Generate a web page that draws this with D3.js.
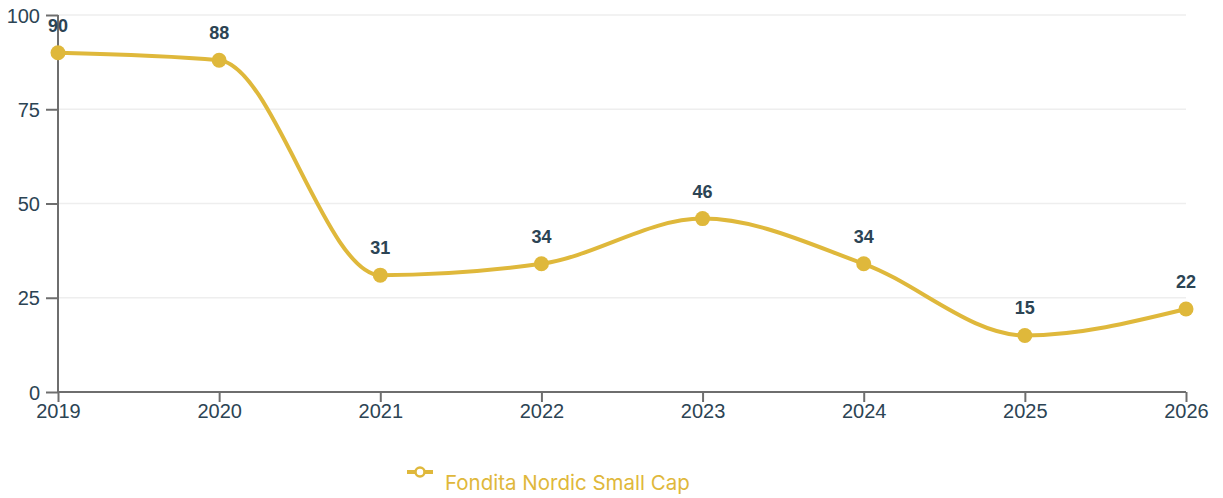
<!DOCTYPE html>
<html>
<head>
<meta charset="utf-8">
<script src="https://cdn.jsdelivr.net/npm/d3@7"></script>
<style>
  body { margin: 0; background: #fff; }
  svg { display: block; }
</style>
</head>
<body>
<svg class="chart"></svg>
<script>
let years = [2019, 2020, 2021, 2022, 2023, 2024, 2025, 2026]
let values = [90, 88, 31, 34, 46, 34, 15, 22]
let yTicks = [0, 25, 50, 75, 100]
let seriesName = "Fondita Nordic Small Cap"

let width = 1223
let height = 498
let margin = { top: 15, right: 37, bottom: 106, left: 58 }
let gold = "#dfb83b"
let ink = "#2c4454"
let font = "'Liberation Sans', Arial, sans-serif"

let svg = d3.select(".chart")
    .attr("width", width)
    .attr("height", height)

let x = d3.scalePoint()
    .domain(years)
    .range([margin.left, width - margin.right])

let y = d3.scaleLinear()
    .domain([0, 100])
    .range([height - margin.bottom, margin.top])

// grid
svg.append("g")
    .selectAll("line")
    .data(yTicks.filter(d => d > 0))
    .enter().append("line")
    .attr("x1", margin.left)
    .attr("x2", width - margin.right)
    .attr("y1", d => y(d))
    .attr("y2", d => y(d))
    .attr("stroke", "#eeeeee")
    .attr("stroke-width", 1.5)

// axes
let xAxis = svg.append("g")
    .attr("transform", `translate(0,${y(0)})`)
    .call(d3.axisBottom(x).tickSize(10))
let yAxis = svg.append("g")
    .attr("transform", `translate(${margin.left},0)`)
    .call(d3.axisLeft(y).tickValues(yTicks).tickSize(12))

;[xAxis, yAxis].forEach(g => {
    g.attr("font-size", null).attr("font-family", null)
    g.select(".domain").attr("stroke", "#6e6e6e").attr("stroke-width", 2)
    g.selectAll(".tick line").attr("stroke", "#6e6e6e").attr("stroke-width", 2)
    g.selectAll("text")
        .attr("fill", ink)
        .style("font-family", font)
        .style("font-size", "20px")
})
xAxis.selectAll("text").attr("y", 26).attr("dy", null)
yAxis.selectAll("text").attr("x", -18).attr("dy", "0.36em")
xAxis.select(".domain").attr("d", `M${margin.left},0H${width - margin.right}`)
yAxis.select(".domain").attr("d", `M0,${y(0)}V${y(100)}`)

// line
let pts = years.map((yr, i) => ({ year: yr, value: values[i] }))
let line = d3.line()
    .x(d => x(d.year))
    .y(d => y(d.value))
    .curve(d3.curveMonotoneX)

svg.append("path")
    .datum(pts)
    .attr("d", line)
    .attr("fill", "none")
    .attr("stroke", gold)
    .attr("stroke-width", 4)

svg.append("g")
    .selectAll("circle")
    .data(pts)
    .enter().append("circle")
    .attr("cx", d => x(d.year))
    .attr("cy", d => y(d.value))
    .attr("r", 7.5)
    .attr("fill", gold)

svg.append("g")
    .selectAll("text")
    .data(pts)
    .enter().append("text")
    .attr("x", d => x(d.year))
    .attr("y", d => y(d.value) - 21)
    .attr("text-anchor", "middle")
    .attr("fill", ink)
    .style("font-family", font)
    .style("font-weight", "bold")
    .style("font-size", "18px")
    .text(d => d.value)

// legend
let lg = svg.append("g").attr("transform", "translate(407,472)")
lg.append("line")
    .attr("x1", 0).attr("x2", 26)
    .attr("y1", 0).attr("y2", 0)
    .attr("stroke", gold).attr("stroke-width", 4)
lg.append("circle")
    .attr("cx", 13).attr("cy", 0).attr("r", 4.5)
    .attr("fill", "#fff").attr("stroke", gold).attr("stroke-width", 2.5)
lg.append("text")
    .attr("x", 38).attr("y", 18)
    .attr("fill", gold)
    .style("font-family", "Inter, 'Open Sans', sans-serif")
    .style("font-size", "20.5px")
    .text(seriesName)
</script>
</body>
</html>
